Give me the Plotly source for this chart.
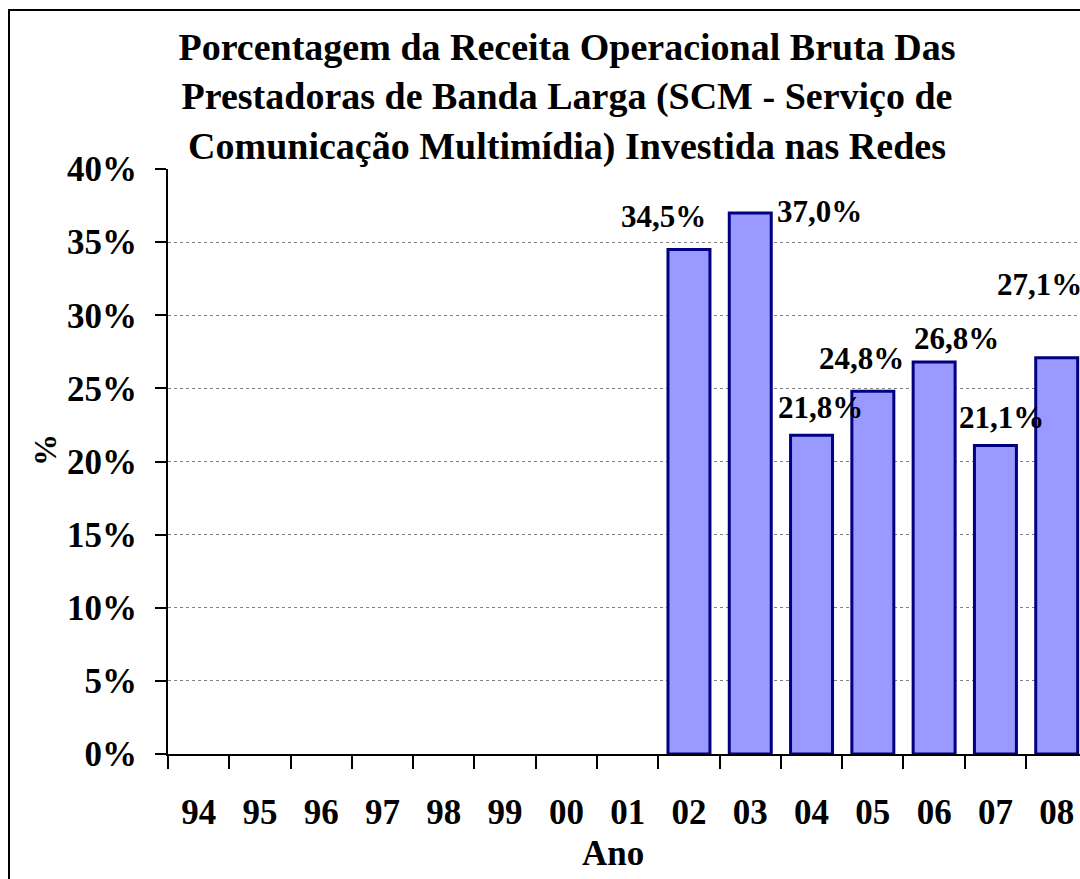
import plotly.graph_objects as go

categories = ["94", "95", "96", "97", "98", "99", "00", "01", "02", "03", "04", "05", "06", "07", "08"]
values = [None, None, None, None, None, None, None, None, 34.5, 37.0, 21.8, 24.8, 26.8, 21.1, 27.1]
# label offsets in pixels (x, y) relative to the bar top, as placed in the original
label_dx = [0, 0, 0, 0, 0, 0, 0, 0, -25, 69, 9, -11, 22, 6, -17]
label_dy = [0, 0, 0, 0, 0, 0, 0, 0, 33, 1, 28, 33, 24, 28, 73]

title_text = ("Porcentagem da Receita Operacional Bruta Das<br>"
              "Prestadoras de Banda Larga (SCM - Serviço de<br>"
              "Comunicação Multimídia) Investida nas Redes")

FONT = "Liberation Serif"
W, H = 1080, 879
L, R, T, B = 168, 0, 169, 125
PW = W - L - R
PH = H - T - B

fig = go.Figure()
fig.add_trace(go.Bar(
    x=categories,
    y=[v / 100 if v is not None else None for v in values],
    marker=dict(color="#9999FF", line=dict(color="#000080", width=3)),
    hoverinfo="skip",
))

annotations = []
for i, (c, v, dx, dy) in enumerate(zip(categories, values, label_dx, label_dy)):
    if v is None:
        continue
    annotations.append(dict(
        x=i, y=v / 100, xref="x", yref="y",
        text=f"<b>{v:.1f}%</b>".replace(".", ","),
        showarrow=False, xanchor="center", yanchor="middle",
        xshift=dx, yshift=dy,
        font=dict(family=FONT, size=31, color="black"),
    ))

# axis titles
annotations.append(dict(
    x=(613 - L) / PW, y=(H - B - 853) / PH, xref="paper", yref="paper",
    text="<b>Ano</b>", showarrow=False, xanchor="center", yanchor="middle",
    font=dict(family=FONT, size=35, color="black"),
))
annotations.append(dict(
    x=(45 - L) / PW, y=(H - B - 450) / PH, xref="paper", yref="paper",
    text="<b>%</b>", showarrow=False, xanchor="center", yanchor="middle",
    textangle=-90,
    font=dict(family=FONT, size=32, color="black"),
))

fig.update_layout(
    width=W, height=H,
    margin=dict(l=L, r=R, t=T, b=B, pad=0),
    paper_bgcolor="white", plot_bgcolor="white",
    showlegend=False,
    bargap=0.315,
    title=dict(
        text=f"<b>{title_text}</b>",
        x=567 / W, xref="container", xanchor="center",
        y=1 - 60 / H, yref="container", yanchor="middle",
        font=dict(family=FONT, size=38, color="black"),
    ),
    annotations=annotations,
    shapes=[dict(
        type="rect", xref="paper", yref="paper",
        x0=(9 - L) / PW, x1=1.3, y0=-0.5, y1=(H - B - 10) / PH,
        line=dict(color="black", width=2), fillcolor="rgba(0,0,0,0)",
        layer="below",
    )],
)

fig.update_xaxes(
    type="category",
    range=[-0.5, 14.38],
    tickson="boundaries",
    ticks="outside", ticklen=13, tickwidth=2, tickcolor="black",
    showline=True, linecolor="black", linewidth=2,
    showgrid=False, zeroline=False,
    ticklabelstandoff=26,
    tickfont=dict(family=FONT, size=35, color="black", weight="bold"),
)
fig.update_yaxes(
    range=[0, 0.40],
    dtick=0.05, tick0=0,
    tickformat=".0%",
    ticks="outside", ticklen=11, tickwidth=2, tickcolor="black",
    showline=True, linecolor="black", linewidth=2,
    showgrid=True, gridcolor="#808080", gridwidth=1, griddash="dot",
    zeroline=False,
    ticklabelstandoff=11,
    tickfont=dict(family=FONT, size=35, color="black", weight="bold"),
)

fig.write_html(
    "out.html",
    config={"displayModeBar": False},
    post_script="document.body.style.margin='0';document.body.style.overflow='hidden';",
)
